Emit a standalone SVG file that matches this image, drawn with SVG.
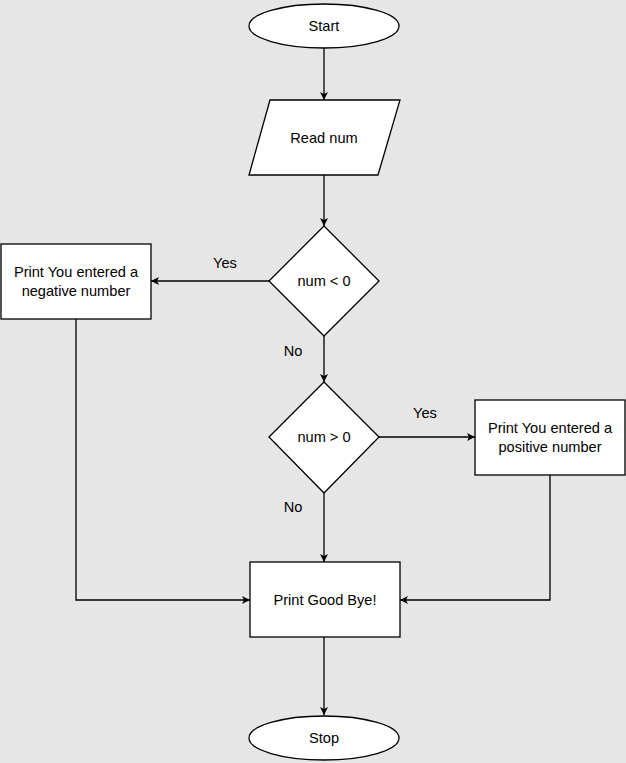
<svg xmlns="http://www.w3.org/2000/svg" width="626" height="763" viewBox="0 0 626 763">
<style>
.s{fill:#fff;stroke:#000;stroke-width:1.3}
.c{fill:none;stroke:#000;stroke-width:1.3;marker-end:url(#a)}
text{font-family:"Liberation Sans",Arial,sans-serif;font-size:14.6px;fill:#000;text-anchor:middle;dominant-baseline:central}
</style>
<defs><marker id="a" viewBox="0 0 10 10" refX="10" refY="5" markerWidth="8" markerHeight="8" markerUnits="userSpaceOnUse" orient="auto"><path d="M0,0L10,5L0,10L2.5,5z" fill="#000"/></marker></defs>
<rect width="626" height="763" fill="#e6e6e6"/>
<g id="connectors">
<path class="c" d="M324,48V100"/>
<path class="c" d="M324,175V226"/>
<path class="c" d="M269,281H151"/>
<path class="c" d="M324,336V382"/>
<path class="c" d="M379,437H475"/>
<path class="c" d="M324,493V562"/>
<path class="c" d="M76,319V600H250"/>
<path class="c" d="M550,475V600H400"/>
<path class="c" d="M324,637V715"/>
<text x="225" y="263">Yes</text>
<text x="293" y="351">No</text>
<text x="425" y="413">Yes</text>
<text x="293" y="507">No</text>
</g>
<g id="start"><ellipse class="s" cx="324" cy="26" rx="75" ry="22"/><text x="324" y="26">Start</text></g>
<g id="read"><polygon class="s" points="270,100 400,100 378,175 249,175"/><text x="324" y="138">Read num</text></g>
<g id="d1"><polygon class="s" points="324,226 379,281 324,336 269,281"/><text x="324" y="281">num &lt; 0</text></g>
<g id="neg"><rect class="s" x="1" y="244" width="150" height="75"/><text x="76" y="272">Print You entered a</text><text x="76" y="291">negative number</text></g>
<g id="d2"><polygon class="s" points="324,382 379,437 324,493 269,437"/><text x="324" y="437">num &gt; 0</text></g>
<g id="pos"><rect class="s" x="475" y="400" width="150" height="75"/><text x="550" y="428">Print You entered a</text><text x="550" y="447">positive number</text></g>
<g id="bye"><rect class="s" x="250" y="562" width="150" height="75"/><text x="325" y="600">Print Good Bye!</text></g>
<g id="stop"><ellipse class="s" cx="324" cy="738" rx="75" ry="22"/><text x="324" y="738">Stop</text></g>
</svg>
